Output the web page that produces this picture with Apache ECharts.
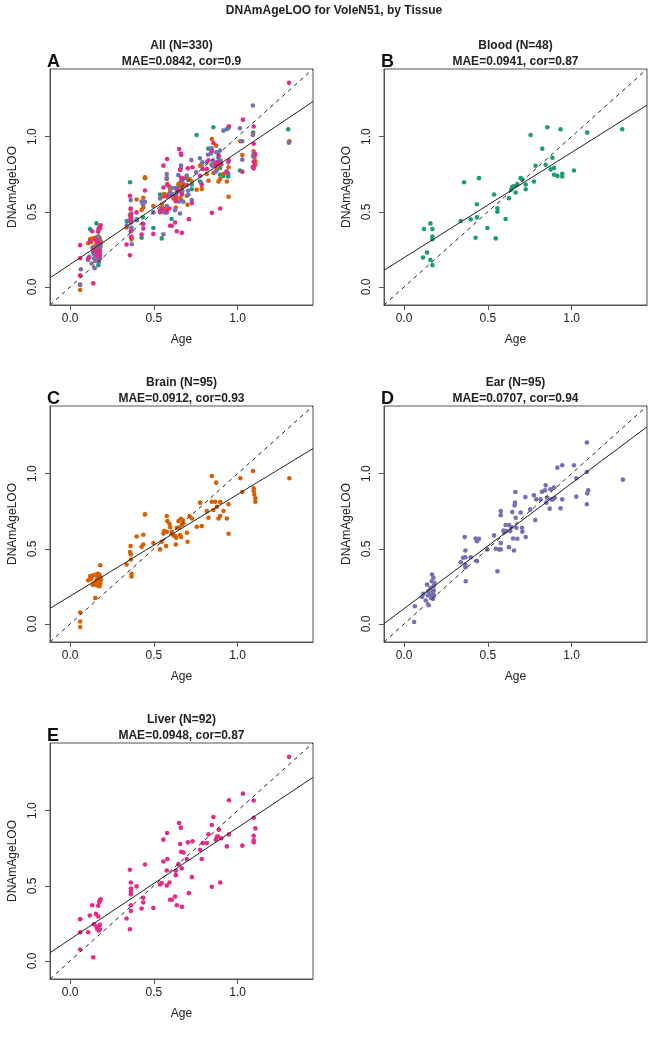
<!DOCTYPE html>
<html>
<head>
<meta charset="utf-8">
<script src="https://cdn.jsdelivr.net/npm/echarts@6/dist/echarts.min.js"></script>
<style>
  html, body { margin: 0; padding: 0; background: #fff; }
  #chart { width: 668px; height: 1039px; }
</style>
</head>
<body>
<div id="chart"></div>
<script>
// axis range shared by every panel (xlim = ylim)
const AX_MIN = -0.12;
const AX_MAX = 1.45;
const TICKS = [0, 0.5, 1];

// [age, DNAmAgeLOO]
const bloodPoints = [
  [0.113,0.196],[0.119,0.385],[0.137,0.229],[0.157,0.423],[0.157,0.180],[0.169,0.385],[0.169,0.336],
  [0.169,0.318],[0.169,0.145],[0.338,0.439],[0.358,0.697],[0.398,0.450],[0.427,0.327],[0.435,0.550],
  [0.435,0.463],[0.447,0.724],[0.497,0.392],[0.537,0.615],[0.547,0.323],[0.557,0.523],[0.557,0.501],
  [0.606,0.452],[0.626,0.590],[0.640,0.648],[0.646,0.666],[0.656,0.670],[0.666,0.628],[0.676,0.684],
  [0.696,0.724],[0.706,0.715],[0.726,0.682],[0.726,0.650],[0.755,1.011],[0.775,0.702],[0.785,0.806],
  [0.825,0.920],[0.845,0.813],[0.855,1.062],[0.875,0.782],[0.885,0.860],[0.895,0.791],[0.895,0.746],
  [0.915,0.739],[0.934,1.049],[0.944,0.753],[0.944,0.735],[1.014,0.775],[1.093,1.027],[1.302,1.049]
];
const brainPoints = [
  [0.060,0.076],[0.060,0.016],[0.060,-0.020],[0.108,0.291],[0.120,0.318],[0.134,0.262],[0.140,0.324],
  [0.144,0.269],[0.150,0.173],[0.154,0.329],[0.158,0.291],[0.162,0.256],[0.166,0.333],[0.170,0.273],
  [0.172,0.307],[0.174,0.329],[0.176,0.251],[0.178,0.284],[0.180,0.391],[0.180,0.307],[0.180,0.269],
  [0.130,0.318],[0.164,0.307],[0.148,0.262],[0.184,0.296],[0.126,0.300],[0.176,0.320],
  [0.337,0.396],[0.357,0.478],[0.361,0.518],[0.363,0.462],[0.363,0.429],[0.367,0.333],[0.367,0.316],
  [0.397,0.582],[0.427,0.513],[0.437,0.529],[0.437,0.593],[0.447,0.729],[0.497,0.538],[0.537,0.496],
  [0.547,0.547],[0.557,0.602],[0.561,0.618],[0.573,0.518],[0.577,0.613],[0.577,0.718],[0.581,0.684],
  [0.593,0.667],[0.597,0.644],[0.607,0.613],[0.617,0.589],[0.629,0.584],[0.631,0.529],[0.633,0.573],
  [0.637,0.640],[0.647,0.684],[0.651,0.640],[0.657,0.591],[0.661,0.700],[0.663,0.578],[0.667,0.658],
  [0.673,0.689],[0.677,0.669],[0.697,0.607],[0.701,0.547],[0.713,0.718],[0.727,0.702],[0.756,0.647],
  [0.776,0.807],[0.786,0.651],[0.816,0.751],[0.826,0.707],[0.846,0.984],[0.846,0.813],[0.856,0.758],
  [0.866,0.813],[0.872,0.940],[0.876,0.780],[0.886,0.702],[0.896,0.811],[0.896,0.718],[0.916,0.751],
  [0.936,0.702],[0.946,0.796],[0.946,0.600],[1.016,0.969],[1.028,0.878],[1.092,1.018],[1.096,0.902],
  [1.096,0.884],[1.100,0.862],[1.106,0.836],[1.106,0.813],[1.309,0.969]
];
const earPoints = [
  [0.060,0.013],[0.064,0.118],[0.107,0.180],[0.115,0.200],[0.129,0.156],[0.137,0.262],[0.143,0.189],
  [0.147,0.124],[0.153,0.196],[0.157,0.240],[0.161,0.173],[0.165,0.284],[0.167,0.329],[0.169,0.200],
  [0.171,0.218],[0.173,0.167],[0.175,0.307],[0.177,0.253],[0.179,0.191],[0.181,0.273],[0.177,0.222],
  [0.143,0.218],[0.338,0.411],[0.352,0.440],[0.362,0.578],[0.366,0.489],[0.366,0.444],[0.366,0.396],
  [0.366,0.378],[0.368,0.284],[0.398,0.444],[0.427,0.569],[0.435,0.551],[0.435,0.418],[0.447,0.567],
  [0.497,0.496],[0.537,0.589],[0.547,0.500],[0.557,0.351],[0.567,0.496],[0.577,0.751],[0.577,0.724],
  [0.577,0.538],[0.577,0.496],[0.594,0.622],[0.596,0.611],[0.606,0.658],[0.610,0.618],[0.626,0.658],
  [0.626,0.511],[0.634,0.618],[0.640,0.644],[0.646,0.744],[0.650,0.569],[0.656,0.489],[0.660,0.789],
  [0.662,0.807],[0.664,0.878],[0.666,0.707],[0.670,0.640],[0.676,0.567],[0.696,0.742],[0.704,0.640],
  [0.706,0.613],[0.724,0.844],[0.726,0.578],[0.753,0.762],[0.775,0.856],[0.783,0.691],[0.789,0.829],
  [0.815,0.829],[0.823,0.880],[0.841,0.889],[0.845,0.922],[0.849,0.807],[0.855,0.840],[0.869,0.767],
  [0.873,0.896],[0.879,0.829],[0.889,0.829],[0.895,0.907],[0.899,0.840],[0.915,1.040],[0.934,0.769],
  [0.944,1.056],[0.944,0.829],[1.014,1.056],[1.028,0.969],[1.028,0.847],[1.091,1.207],[1.091,1.011],
  [1.091,0.796],[1.093,0.869],[1.099,0.889],[1.306,0.960]
];
const liverPoints = [
  [0.060,0.278],[0.060,0.191],[0.060,0.076],[0.108,0.191],[0.118,0.302],[0.132,0.371],[0.138,0.024],
  [0.142,0.244],[0.154,0.313],[0.158,0.229],[0.162,0.213],[0.168,0.296],[0.168,0.367],[0.172,0.202],
  [0.174,0.393],[0.178,0.402],[0.178,0.240],[0.178,0.211],[0.182,0.411],[0.337,0.282],[0.357,0.607],
  [0.357,0.211],[0.363,0.522],[0.363,0.482],[0.363,0.462],[0.363,0.444],[0.363,0.371],[0.363,0.333],
  [0.397,0.496],[0.427,0.349],[0.437,0.420],[0.437,0.389],[0.447,0.642],[0.497,0.353],[0.537,0.509],
  [0.547,0.518],[0.557,0.662],[0.557,0.807],[0.577,0.602],[0.577,0.502],[0.579,0.851],[0.581,0.678],
  [0.593,0.522],[0.597,0.407],[0.607,0.407],[0.627,0.429],[0.631,0.571],[0.631,0.600],[0.637,0.371],
  [0.647,0.644],[0.651,0.918],[0.657,0.778],[0.661,0.887],[0.663,0.727],[0.667,0.616],[0.667,0.360],
  [0.677,0.722],[0.697,0.678],[0.703,0.789],[0.709,0.451],[0.727,0.558],[0.731,0.796],[0.776,0.740],
  [0.786,0.678],[0.792,0.784],[0.816,0.784],[0.826,0.842],[0.846,0.904],[0.846,0.493],[0.856,0.958],
  [0.870,0.807],[0.876,0.824],[0.882,0.829],[0.888,0.873],[0.896,0.522],[0.902,0.816],[0.936,0.762],
  [0.948,1.069],[0.948,0.842],[1.028,0.767],[1.032,1.113],[1.096,1.067],[1.096,0.953],[1.096,0.833],
  [1.096,0.802],[1.096,0.789],[1.106,0.882],[1.307,1.358]
];

const tissueColors = ["#1B9E77", "#D95F02", "#7570B3", "#E7298A"];

// panel A..E
const panelLetters = ["A", "B", "C", "D", "E"];
const panelTitles = ["All (N=330)", "Blood (N=48)", "Brain (N=95)", "Ear (N=95)", "Liver (N=92)"];
const panelStats = ["MAE=0.0842, cor=0.9", "MAE=0.0941, cor=0.87", "MAE=0.0912, cor=0.93",
                    "MAE=0.0707, cor=0.94", "MAE=0.0948, cor=0.87"];
// regression line (intercept, slope)
const fitIntercept = [0.150, 0.195, 0.185, 0.102, 0.144];
const fitSlope = [0.747, 0.700, 0.677, 0.834, 0.743];

const tissues = [bloodPoints, brainPoints, earPoints, liverPoints];
// which tissues go into each panel
const panelTissues = [[0, 1, 2, 3], [0], [1], [2], [3]];

const FONT = "'Liberation Sans', Arial, Helvetica, sans-serif";
const BOX = "#555";
const TXT = "#222";
const W = 263, H = 236;
const lefts = [50, 384, 50, 384, 50];
const tops = [69, 69, 406, 406, 743];

var grids = [], xAxes = [], yAxes = [], series = [], titles = [];

titles.push({
    text: "DNAmAgeLOO for VoleN51, by Tissue",
    left: 334, top: 5, padding: 0, textAlign: "center",
    textStyle: { fontFamily: FONT, fontSize: 12, fontWeight: "bold", color: TXT }
});

for (var i = 0; i < 5; i++) {
    grids.push({
        left: lefts[i], top: tops[i], width: W, height: H,
        show: true, borderColor: BOX, borderWidth: 1, backgroundColor: "transparent"
    });
    xAxes.push({
        gridIndex: i, type: "value", min: AX_MIN, max: AX_MAX,
        name: "Age", nameLocation: "middle", nameGap: 29,
        nameTextStyle: { fontFamily: FONT, fontSize: 12, color: TXT },
        axisLine: { show: true, onZero: false, lineStyle: { color: BOX } },
        axisTick: { show: true, length: 5, customValues: TICKS, lineStyle: { color: BOX } },
        axisLabel: {
            customValues: TICKS, margin: 8, fontFamily: FONT, fontSize: 12, color: TXT,
            formatter: function (v) { return v.toFixed(1); }
        },
        splitLine: { show: false }
    });
    yAxes.push({
        gridIndex: i, type: "value", min: AX_MIN, max: AX_MAX,
        name: "DNAmAgeLOO", nameLocation: "middle", nameGap: 31,
        nameTextStyle: { fontFamily: FONT, fontSize: 12, color: TXT },
        axisLine: { show: true, onZero: false, lineStyle: { color: BOX } },
        axisTick: { show: true, length: 5, customValues: TICKS, lineStyle: { color: BOX } },
        axisLabel: {
            customValues: TICKS, margin: 11, rotate: 90, fontFamily: FONT, fontSize: 12, color: TXT,
            formatter: function (v) { return v.toFixed(1); }
        },
        splitLine: { show: false }
    });

    panelTissues[i].forEach(function (t) {
        series.push({
            type: "scatter", xAxisIndex: i, yAxisIndex: i,
            data: tissues[t], symbolSize: 4.6,
            itemStyle: { color: tissueColors[t], opacity: 1 },
            silent: true, z: 2
        });
    });

    // identity line y = x, dashed
    series.push({
        type: "line", xAxisIndex: i, yAxisIndex: i,
        data: [[AX_MIN, AX_MIN], [AX_MAX, AX_MAX]],
        symbol: "none", silent: true, z: 3,
        lineStyle: { color: "#222", width: 1, type: [4, 4] }
    });
    // fitted regression line
    series.push({
        type: "line", xAxisIndex: i, yAxisIndex: i,
        data: [[AX_MIN, fitIntercept[i] + fitSlope[i] * AX_MIN],
               [AX_MAX, fitIntercept[i] + fitSlope[i] * AX_MAX]],
        symbol: "none", silent: true, z: 3,
        lineStyle: { color: "#222", width: 1 }
    });

    titles.push({
        text: panelTitles[i] + "\n" + panelStats[i],
        left: lefts[i] + W / 2, top: tops[i] - 31, padding: 0, textAlign: "center",
        textStyle: { fontFamily: FONT, fontSize: 12, fontWeight: "bold", color: TXT, lineHeight: 16 }
    });
    titles.push({
        text: panelLetters[i],
        left: lefts[i] - 3, top: tops[i] - 16, padding: 0,
        textStyle: { fontFamily: FONT, fontSize: 18, fontWeight: "bold", color: "#111" }
    });
}

var chart = echarts.init(document.getElementById("chart"));
chart.setOption({
    animation: false,
    backgroundColor: "#fff",
    title: titles,
    grid: grids,
    xAxis: xAxes,
    yAxis: yAxes,
    series: series
});
</script>
</body>
</html>
